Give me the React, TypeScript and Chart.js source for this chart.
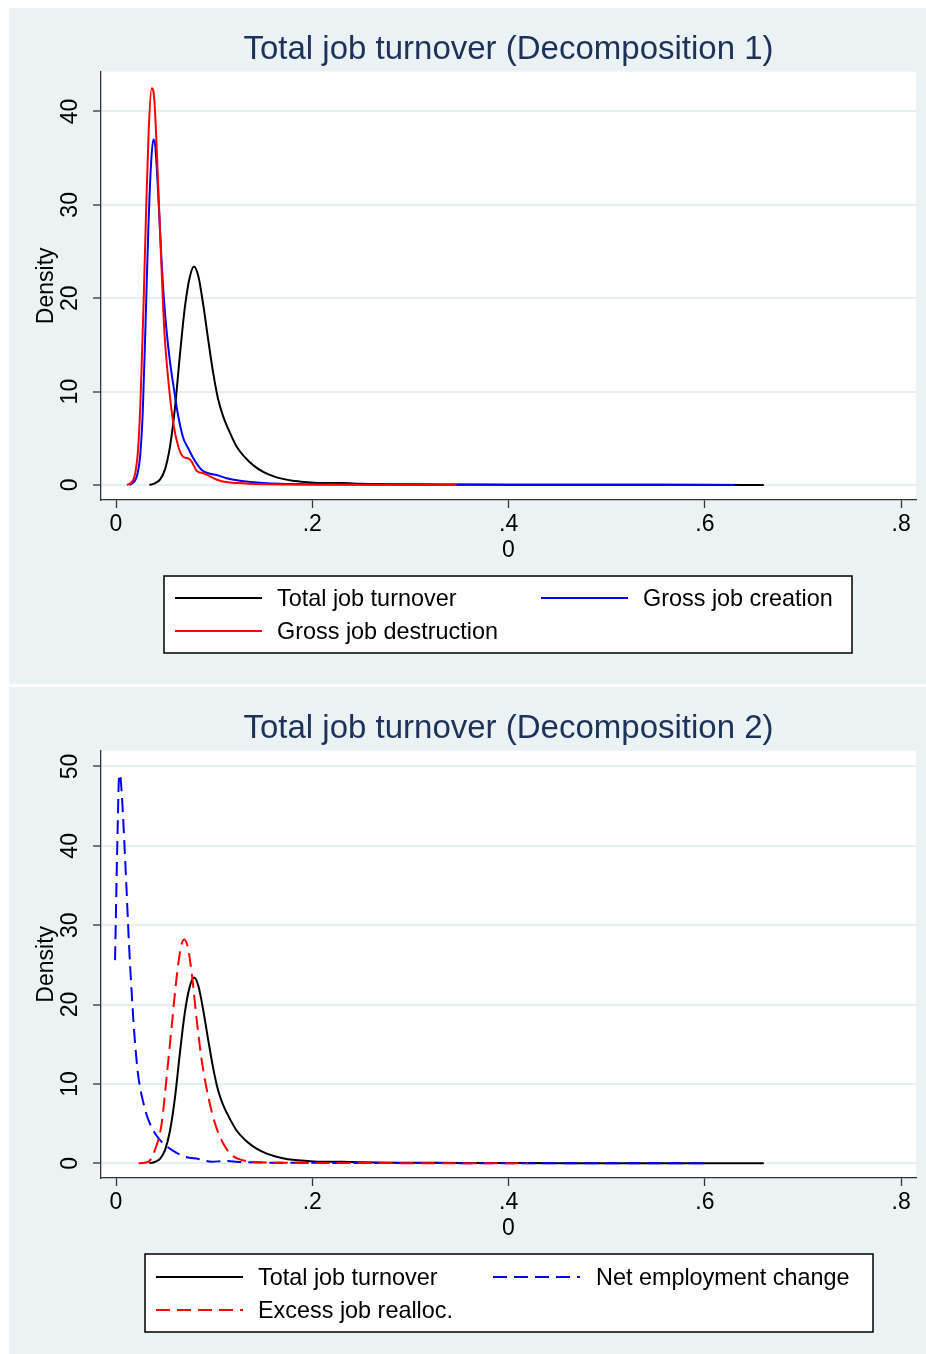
import React, { useEffect, useRef } from 'react';
import { Chart, registerables } from 'chart.js';

Chart.register(...registerables);

const FONT = "'Liberation Sans', Arial, Helvetica, sans-serif";
const PANEL_BG = '#EAF2F3';
const GRID = '#E6EEF0';
const AXIS = '#333333';
const TITLE_COLOR = '#1E3158';

// ---------- tick definitions ----------
const xTickValues = [0, 0.2, 0.4, 0.6, 0.8];
const xTickLabels = ['0', '.2', '.4', '.6', '.8'];
const yTickValues1 = [0, 10, 20, 30, 40];
const yTickValues2 = [0, 10, 20, 30, 40, 50];

// ---------- series: Total job turnover ----------
const totalX = [0.034, 0.040, 0.045, 0.050, 0.055, 0.060, 0.065, 0.070, 0.075, 0.0795, 0.084, 0.089, 0.094, 0.099, 0.104, 0.109, 0.116, 0.123, 0.131, 0.140, 0.150, 0.160, 0.170, 0.180, 0.195, 0.210, 0.230, 0.250, 0.300, 0.350, 0.400, 0.500, 0.600, 0.660];
const totalY = [0, 0.2, 0.6, 1.7, 4.1, 8.2, 13.8, 18.9, 22.2, 23.4, 22.3, 19.2, 15.5, 12.0, 9.2, 7.4, 5.6, 4.1, 3.0, 2.1, 1.4, 0.95, 0.65, 0.45, 0.3, 0.2, 0.2, 0.12, 0.07, 0.05, 0.03, 0.02, 0.01, 0.0];

// ---------- series: Gross job creation ----------
const creationX = [0.0136, 0.018, 0.0211, 0.0245, 0.0272, 0.0299, 0.0329, 0.0357, 0.038, 0.040, 0.0431, 0.0465, 0.0499, 0.0543, 0.0591, 0.0635, 0.0686, 0.0737, 0.0788, 0.0873, 0.0958, 0.1026, 0.1128, 0.1263, 0.1467, 0.167, 0.25, 0.35, 0.45, 0.55, 0.63];
const creationY = [0, 0.3, 0.9, 3.0, 7.7, 16.6, 27.3, 34.4, 37.0, 36.3, 30.9, 23.8, 18.4, 13.8, 10.2, 7.3, 5.0, 3.9, 2.85, 1.6, 1.2, 1.07, 0.72, 0.46, 0.25, 0.14, 0.06, 0.03, 0.02, 0.01, 0.0];

// ---------- series: Gross job destruction ----------
const destructionX = [0.011, 0.016, 0.0195, 0.0227, 0.0251, 0.0278, 0.0306, 0.0333, 0.0363, 0.039, 0.0421, 0.0455, 0.0492, 0.0533, 0.0584, 0.0635, 0.0686, 0.0737, 0.0771, 0.0822, 0.089, 0.096, 0.106, 0.123, 0.157, 0.25, 0.347];
const destructionY = [0, 0.3, 1.2, 4.1, 9.5, 18.4, 29.1, 38.0, 42.5, 41.3, 34.4, 25.5, 16.6, 11.2, 6.6, 4.1, 3.0, 2.85, 2.5, 1.5, 1.25, 0.9, 0.45, 0.2, 0.08, 0.03, 0.0];

// ---------- series: Net employment change ----------
const netX = [-0.001, 0.0017, 0.0031, 0.004, 0.0058, 0.0085, 0.0109, 0.0132, 0.016, 0.0194, 0.0228, 0.0279, 0.0329, 0.0397, 0.0465, 0.0567, 0.0703, 0.0839, 0.0975, 0.111, 0.1314, 0.2, 0.3, 0.4, 0.5, 0.6];
const netY = [25.6, 42.4, 48.7, 49.0, 46.7, 40.4, 34.0, 27.7, 21.4, 15.1, 10.9, 7.6, 5.5, 3.8, 2.7, 1.7, 0.83, 0.54, 0.2, 0.29, 0.13, 0.06, 0.03, 0.02, 0.01, 0.0];

// ---------- series: Excess job realloc. ----------
const excessX = [0.023, 0.033, 0.0397, 0.0465, 0.0516, 0.0567, 0.0618, 0.0662, 0.0696, 0.073, 0.0771, 0.0822, 0.0873, 0.094, 0.1009, 0.1093, 0.1178, 0.128, 0.145, 0.2, 0.3, 0.42];
const excessY = [0, 0.2, 1.7, 5.0, 10.9, 17.2, 23.5, 27.3, 28.2, 27.3, 24.0, 18.1, 13.0, 8.4, 5.0, 2.5, 1.05, 0.42, 0.13, 0.05, 0.02, 0.0];

const toPoints = (xs: number[], ys: number[]) => xs.map((x, i) => ({ x, y: ys[i] }));

type Slot = { lx: number; ly: number; tx: number };
type LegendLayout = { x: number; y: number; w: number; h: number; lineLen: number; slots: Slot[] };

function makeLegendPlugin(L: LegendLayout) {
  return {
    id: 'boxLegend',
    afterDraw(chart: any) {
      const ctx = chart.ctx as CanvasRenderingContext2D;
      ctx.save();
      ctx.fillStyle = '#ffffff';
      ctx.fillRect(L.x, L.y, L.w, L.h);
      ctx.strokeStyle = '#000000';
      ctx.lineWidth = 1.5;
      ctx.setLineDash([]);
      ctx.strokeRect(L.x, L.y, L.w, L.h);
      chart.data.datasets.forEach((ds: any, i: number) => {
        const s = L.slots[i];
        if (!s) return;
        ctx.beginPath();
        ctx.setLineDash(ds.borderDash || []);
        ctx.strokeStyle = ds.borderColor;
        ctx.lineWidth = ds.borderWidth;
        ctx.moveTo(L.x + s.lx, L.y + s.ly);
        ctx.lineTo(L.x + s.lx + L.lineLen, L.y + s.ly);
        ctx.stroke();
        ctx.setLineDash([]);
        ctx.fillStyle = '#000000';
        ctx.font = `23.4px ${FONT}`;
        ctx.textAlign = 'left';
        ctx.textBaseline = 'middle';
        ctx.fillText(ds.label, L.x + s.tx, L.y + s.ly + 2);
      });
      ctx.restore();
    },
  };
}

const backgroundPlugin = {
  id: 'panelBg',
  beforeDraw(chart: any) {
    const { ctx, chartArea, width, height } = chart;
    ctx.save();
    ctx.fillStyle = PANEL_BG;
    ctx.fillRect(0, 0, width, height);
    ctx.fillStyle = '#ffffff';
    ctx.fillRect(chartArea.left, chartArea.top, chartArea.right - chartArea.left, chartArea.bottom - chartArea.top);
    ctx.restore();
  },
};

function makeConfig(opts: {
  title: string;
  datasets: any[];
  yTicks: number[];
  yMin: number;
  yMax: number;
  bottomPad: number;
  legend: LegendLayout;
}) {
  return {
    type: 'scatter' as const,
    data: { datasets: opts.datasets },
    options: {
      animation: false,
      responsive: false,
      maintainAspectRatio: false,
      devicePixelRatio: 1,
      events: [],
      layout: { padding: { left: 0, top: 0, right: 10, bottom: opts.bottomPad } },
      plugins: {
        legend: { display: false },
        tooltip: { enabled: false },
        title: {
          display: true,
          text: opts.title,
          fullSize: false,
          color: TITLE_COLOR,
          font: { family: FONT, size: 33, weight: 'normal', lineHeight: 1.2 },
          padding: { top: 22, bottom: 2 },
        },
      },
      scales: {
        x: {
          type: 'linear',
          min: -0.0153,
          max: 0.8151,
          afterBuildTicks: (s: any) => {
            s.ticks = xTickValues.map((v) => ({ value: v }));
          },
          afterFit: (s: any) => {
            s.height = 64;
          },
          grid: { drawOnChartArea: false, drawTicks: true, tickLength: 8, tickColor: AXIS, tickWidth: 1.3 },
          border: { display: true, color: AXIS, width: 1.3 },
          ticks: {
            autoSkip: false,
            maxRotation: 0,
            padding: 3,
            color: '#000',
            font: { family: FONT, size: 23, lineHeight: 1.2 },
            callback: (_v: any, i: number) => xTickLabels[i],
          },
          title: {
            display: true,
            text: '0',
            color: '#000',
            font: { family: FONT, size: 23, lineHeight: 1.2 },
            padding: { top: 0, bottom: 0 },
          },
        },
        y: {
          type: 'linear',
          min: opts.yMin,
          max: opts.yMax,
          afterBuildTicks: (s: any) => {
            s.ticks = opts.yTicks.map((v) => ({ value: v }));
          },
          afterFit: (s: any) => {
            s.width = 92;
          },
          grid: { color: GRID, lineWidth: 2, drawTicks: true, tickLength: 8, tickColor: AXIS, tickWidth: 1.3 },
          border: { display: true, color: AXIS, width: 1.3 },
          ticks: {
            autoSkip: false,
            minRotation: 90,
            maxRotation: 90,
            crossAlign: 'center',
            padding: 10,
            color: '#000',
            font: { family: FONT, size: 23, lineHeight: 1.2 },
            callback: (v: any) => String(v),
          },
          title: {
            display: true,
            text: 'Density',
            color: '#000',
            font: { family: FONT, size: 23, lineHeight: 1.2 },
            padding: { top: 24, bottom: 0 },
          },
        },
      },
    },
    plugins: [backgroundPlugin, makeLegendPlugin(opts.legend)],
  };
}

const lineDs = (label: string, xs: number[], ys: number[], color: string, order: number, dash?: number[]) => ({
  label,
  data: toPoints(xs, ys),
  showLine: true,
  borderColor: color,
  backgroundColor: color,
  borderWidth: 2,
  borderDash: dash || [],
  pointRadius: 0,
  cubicInterpolationMode: 'monotone',
  fill: false,
  order,
});

function ChartCanvas({ config, width, height, left, top }: any) {
  const ref = useRef<HTMLCanvasElement | null>(null);
  useEffect(() => {
    if (!ref.current) return;
    const chart = new Chart(ref.current, config);
    return () => chart.destroy();
  }, [config]);
  return (
    <canvas
      ref={ref}
      width={width}
      height={height}
      style={{ position: 'absolute', left, top, width, height, display: 'block' }}
    />
  );
}

const config1 = makeConfig({
  title: 'Total job turnover (Decomposition 1)',
  datasets: [
    lineDs('Total job turnover', totalX, totalY, '#000000', 3),
    lineDs('Gross job creation', creationX, creationY, '#0000FF', 2),
    lineDs('Gross job destruction', destructionX, destructionY, '#FF0000', 1),
  ],
  yTicks: yTickValues1,
  yMin: -1.61,
  yMax: 44.27,
  bottomPad: 120,
  legend: {
    x: 155,
    y: 568,
    w: 688,
    h: 77,
    lineLen: 87,
    slots: [
      { lx: 11, ly: 22, tx: 113 },
      { lx: 377, ly: 22, tx: 479 },
      { lx: 11, ly: 55, tx: 113 },
    ],
  },
});

const config2 = makeConfig({
  title: 'Total job turnover (Decomposition 2)',
  datasets: [
    lineDs('Total job turnover', totalX, totalY, '#000000', 3),
    lineDs('Net employment change', netX, netY, '#0000FF', 2, [14, 7]),
    lineDs('Excess job realloc.', excessX, excessY, '#FF0000', 1, [14, 7]),
  ],
  yTicks: yTickValues2,
  yMin: -1.85,
  yMax: 52.0,
  bottomPad: 112,
  legend: {
    x: 136,
    y: 567,
    w: 728,
    h: 78,
    lineLen: 87,
    slots: [
      { lx: 11, ly: 23, tx: 113 },
      { lx: 348, ly: 23, tx: 451 },
      { lx: 11, ly: 56, tx: 113 },
    ],
  },
});

export default function App() {
  return (
    <div style={{ position: 'absolute', left: 0, top: 0, width: 926, height: 1354, background: '#ffffff', overflow: 'hidden' }}>
      <ChartCanvas config={config1} width={917} height={676} left={9} top={8} />
      <ChartCanvas config={config2} width={917} height={667} left={9} top={687} />
    </div>
  );
}
